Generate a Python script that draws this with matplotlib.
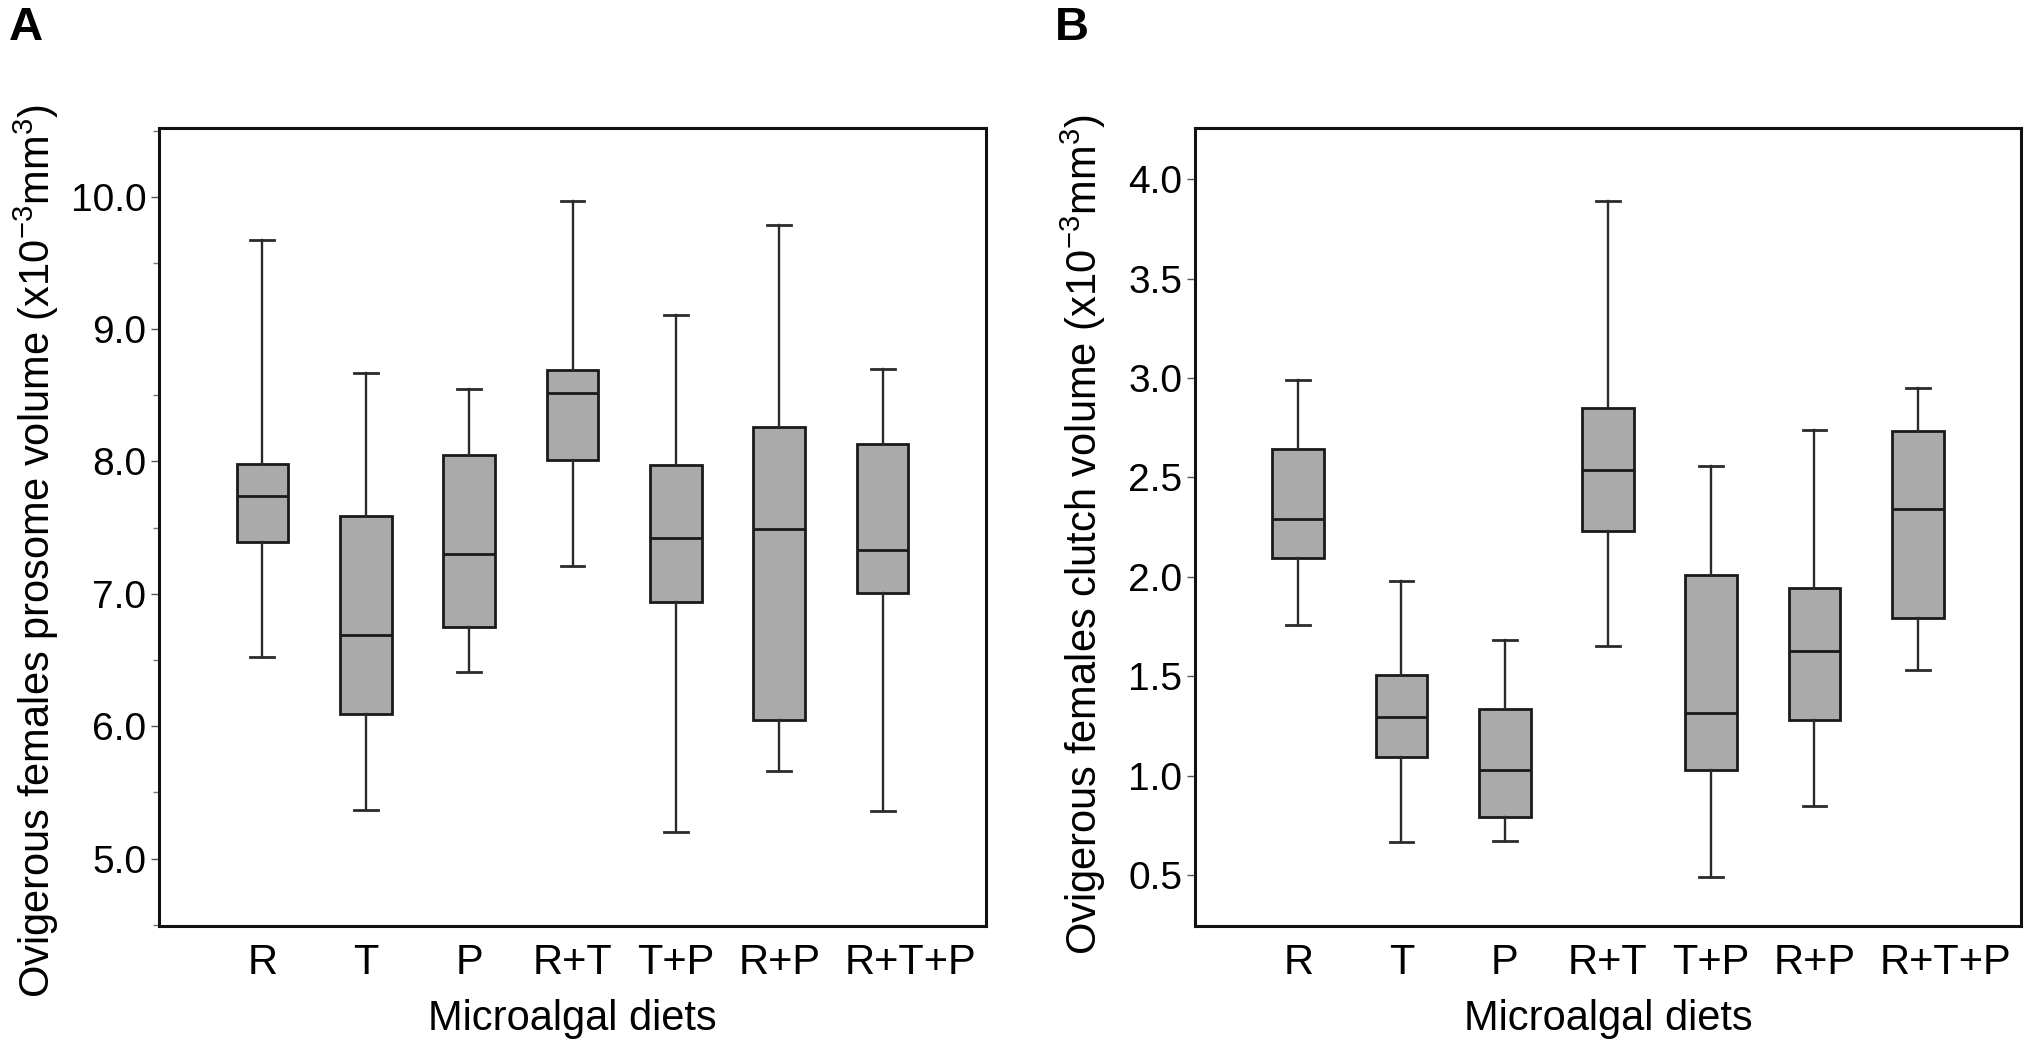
import matplotlib
matplotlib.use('Agg')
import matplotlib.pyplot as plt
from matplotlib.ticker import MultipleLocator, FormatStrFormatter
from matplotlib.transforms import ScaledTranslation

plt.rcParams['font.family'] = ['Liberation Sans', 'DejaVu Sans']
plt.rcParams['mathtext.default'] = 'regular'

DIETS = ['R', 'T', 'P', 'R+T', 'T+P', 'R+P', 'R+T+P']

# panel A: prosome volume (x10^-3 mm^3)
PROS_WHISLO = [6.52, 5.37, 6.41, 7.21, 5.20, 5.66, 5.36]
PROS_Q1 = [7.39, 6.09, 6.75, 8.01, 6.94, 6.05, 7.01]
PROS_MED = [7.74, 6.69, 7.30, 8.52, 7.42, 7.49, 7.33]
PROS_Q3 = [7.98, 7.59, 8.05, 8.69, 7.97, 8.26, 8.13]
PROS_WHISHI = [9.67, 8.67, 8.55, 9.97, 9.11, 9.79, 8.70]

# panel B: clutch volume (x10^-3 mm^3)
CLUT_WHISLO = [1.76, 0.665, 0.67, 1.65, 0.49, 0.85, 1.53]
CLUT_Q1 = [2.095, 1.095, 0.79, 2.23, 1.03, 1.28, 1.795]
CLUT_MED = [2.29, 1.295, 1.03, 2.54, 1.315, 1.625, 2.34]
CLUT_Q3 = [2.645, 1.507, 1.335, 2.85, 2.01, 1.945, 2.733]
CLUT_WHISHI = [2.99, 1.98, 1.685, 3.89, 2.56, 2.74, 2.95]

W, H = 2033, 1050


def make_stats(lo, q1, med, q3, hi):
    return [dict(whislo=a, q1=b, med=c, q3=d, whishi=e, fliers=[])
            for a, b, c, d, e in zip(lo, q1, med, q3, hi)]


def draw_panel(ax, stats, ylim, major, minor, ylabel, label_x, label_y):
    ax.bxp(stats, positions=range(1, len(DIETS) + 1), widths=0.5,
           capwidths=0.23, patch_artist=True, showfliers=False,
           boxprops=dict(facecolor='#aaaaaa', edgecolor='#1a1a1a', linewidth=2.0),
           medianprops=dict(color='#1a1a1a', linewidth=2.0),
           whiskerprops=dict(color='#2a2a2a', linewidth=1.7),
           capprops=dict(color='#2a2a2a', linewidth=2.0))
    ax.set_xlim(0, 8)
    ax.set_ylim(*ylim)
    ax.set_xticks(range(1, len(DIETS) + 1))
    ax.set_xticklabels(DIETS)
    ax.yaxis.set_major_locator(MultipleLocator(major))
    ax.yaxis.set_major_formatter(FormatStrFormatter('%.1f'))
    if minor:
        ax.yaxis.set_minor_locator(MultipleLocator(minor))
    ax.tick_params(axis='x', length=0, pad=12, labelsize=30)
    ax.tick_params(axis='y', which='major', length=6, width=1.0, pad=3,
                   labelsize=28, color='#555555')
    ax.tick_params(axis='y', which='minor', length=4, width=1.0, color='#777777')
    for sp in ax.spines.values():
        sp.set_linewidth(2.2)
        sp.set_color('#111111')
    ax.set_ylabel(ylabel, fontsize=30, va='center')
    ax.yaxis.set_label_coords(label_x, label_y)
    ax.set_xlabel('Microalgal diets', fontsize=30, va='top')
    ax.xaxis.set_label_coords(0.5, -0.092)
    # the last label sits a little right of its box, clear of "R+P"
    last = ax.get_xticklabels()[-1]
    last.set_transform(last.get_transform() + ScaledTranslation(0.28, 0, fig.dpi_scale_trans))


fig = plt.figure(figsize=(W / 100, H / 100), dpi=100)
ax_a = fig.add_axes([159 / W, 1 - 926 / H, 827 / W, 798 / H])
ax_b = fig.add_axes([1195 / W, 1 - 926 / H, 826 / W, 798 / H])

draw_panel(ax_a, make_stats(PROS_WHISLO, PROS_Q1, PROS_MED, PROS_Q3, PROS_WHISHI),
           (4.49, 10.52), 1.0, 0.5,
           r'Ovigerous females prosome volume (x10$^{-3}$mm$^{3}$)', -0.148, 0.47)
draw_panel(ax_b, make_stats(CLUT_WHISLO, CLUT_Q1, CLUT_MED, CLUT_Q3, CLUT_WHISHI),
           (0.244, 4.258), 0.5, None,
           r'Ovigerous females clutch volume (x10$^{-3}$mm$^{3}$)', -0.135, 0.49)

fig.text(9 / W, 1 - 6 / H, 'A', fontsize=34, fontweight='bold', va='top', ha='left')
fig.text(1055 / W, 1 - 6 / H, 'B', fontsize=34, fontweight='bold', va='top', ha='left')

fig.savefig('out.png', dpi=100)
